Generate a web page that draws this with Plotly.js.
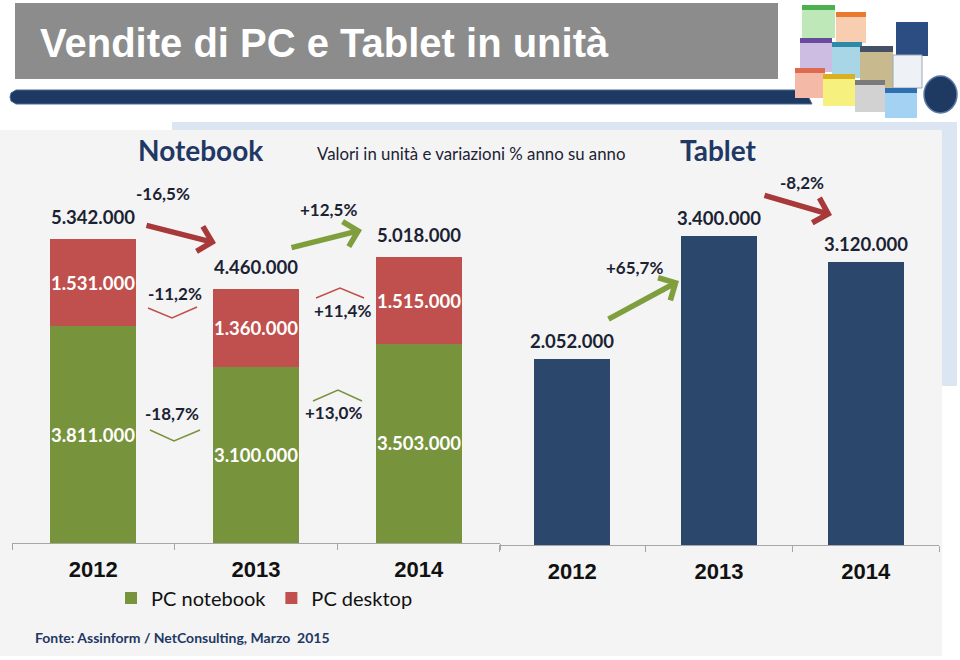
<!DOCTYPE html>
<html>
<head>
<meta charset="utf-8">
<script src="https://cdn.plot.ly/plotly-3.0.1.min.js"></script>
<style>
html,body{margin:0;padding:0;background:#ffffff;}
#chart{width:960px;height:660px;}
</style>
</head>
<body>
<div id="chart"></div>
<script>
// ---------------- DATA ----------------
const years = ['2012', '2013', '2014'];
const pcNotebook = [3811000, 3100000, 3503000];
const pcDesktop = [1531000, 1360000, 1515000];
const tablet = [2052000, 3400000, 3120000];
const pcTotalChange = ['-16,5%', '+12,5%'];
const desktopChange = ['-11,2%', '+11,4%'];
const notebookChange = ['-18,7%', '+13,0%'];
const tabletChange = ['+65,7%', '-8,2%'];
const seriesNames = ['PC notebook', 'PC desktop'];

// ---------------- STYLE ----------------
const GREEN = '#77933c', RED = '#c0504d', NAVY = '#2b476c';
const TXT = '#1b2233', TITLE = '#1f3864';
const LAB = 'Lato, "Open Sans", sans-serif';
const W = 960, H = 660;
const X = px => px / W;
const Y = py => 1 - py / H;
const fmt = n => String(n).replace(/\B(?=(\d{3})+(?!\d))/g, '.');
const pcTotal = pcNotebook.map((v, i) => v + pcDesktop[i]);

const traces = [
  {type: 'bar', x: years, y: pcNotebook, name: seriesNames[0], xaxis: 'x', yaxis: 'y',
   marker: {color: GREEN, line: {width: 0}}, width: 0.53, hoverinfo: 'skip'},
  {type: 'bar', x: years, y: pcDesktop, name: seriesNames[1], xaxis: 'x', yaxis: 'y',
   marker: {color: RED, line: {width: 0}}, width: 0.53, hoverinfo: 'skip'},
  {type: 'bar', x: years, y: tablet, name: 'Tablet', xaxis: 'x2', yaxis: 'y2', showlegend: false,
   marker: {color: NAVY, line: {width: 0}}, width: 0.52, hoverinfo: 'skip'}
];

// ---------------- SHAPES ----------------
function rect(x0, y0, x1, y1, fill, layer, line) {
  return {type: 'rect', xref: 'paper', yref: 'paper', x0: X(x0), x1: X(x1), y0: Y(y1), y1: Y(y0),
          fillcolor: fill, line: line || {width: 0}, layer: layer || 'below'};
}
function poly(pts, color, width, fill, layer) {
  const d = pts.map((p, i) => (i ? 'L' : 'M') + X(p[0]).toFixed(5) + ',' + Y(p[1]).toFixed(5)).join(' ') + (fill ? ' Z' : '');
  return {type: 'path', xref: 'paper', yref: 'paper', path: d,
          line: {color: color, width: width}, fillcolor: fill || 'rgba(0,0,0,0)', layer: layer || 'above'};
}
const shapes = [
  rect(172, 122, 957, 386, '#dce6f2'),
  rect(0, 130, 942, 656, '#f4f4f4'),
  rect(15, 3, 778, 79, '#8c8c8c'),
  // dark strip with rounded left end
  poly([[16, 90], [805, 90], [812, 104], [16, 104], [11, 101], [10, 97], [11, 93]], '#4a6a94', 1, '#1f3a62', 'below'),
  // chevrons
  poly([[148, 308], [172, 318], [197, 307]], RED, 1.5),
  poly([[316, 298], [340, 288], [364, 298]], RED, 1.5),
  poly([[150, 430], [174, 441], [200, 430]], GREEN, 1.5),
  poly([[313, 401], [338, 390], [362, 401]], GREEN, 1.5),
  // logo tiles
  rect(802, 5, 835, 38, '#bfe8b8', 'above'), rect(802, 5, 835, 10, '#4caf50', 'above'),
  rect(836, 12, 866, 43, '#f9cdb0', 'above'), rect(836, 12, 866, 17, '#e8792e', 'above'),
  rect(896, 22, 928, 56, '#2c4d82', 'above'),
  rect(800, 38, 832, 72, '#cdbde2', 'above'), rect(800, 38, 832, 43, '#6a4a9a', 'above'),
  rect(832, 42, 862, 78, '#a9d6e6', 'above'), rect(832, 42, 862, 47, '#2c8aa8', 'above'),
  rect(860, 46, 893, 96, '#c9b98e', 'above'), rect(860, 46, 893, 52, '#445066', 'above'),
  rect(893, 55, 922, 88, '#eef2f6', 'above', {color: '#9aa6b4', width: 1}),
  rect(795, 68, 825, 98, '#f5b9a8', 'above'), rect(795, 68, 825, 73, '#e06a50', 'above'),
  rect(823, 74, 855, 106, '#f6f07e', 'above'), rect(823, 74, 855, 79, '#d8b020', 'above'),
  rect(855, 80, 885, 112, '#d2d2d2', 'above'), rect(855, 80, 885, 85, '#7a7a7a', 'above'),
  rect(885, 88, 917, 118, '#a4d2f2', 'above'), rect(885, 88, 917, 93, '#2f6fb0', 'above'),
  {type: 'circle', xref: 'paper', yref: 'paper', x0: X(924), x1: X(957), y0: Y(113), y1: Y(76),
   fillcolor: '#1f3a62', line: {color: '#5a7aa4', width: 1.5}, layer: 'above'}
];

// ---------------- ANNOTATIONS ----------------
const ann = [];
function txt(x, y, text, size, color, extra) {
  ann.push(Object.assign({xref: 'paper', yref: 'paper', x: X(x), y: Y(y), text: text, showarrow: false,
    xanchor: 'center', yanchor: 'middle', font: {family: LAB, size: size, color: color}}, extra || {}));
}
function arrow(tx, ty, hx, hy, color) {
  ann.push({xref: 'paper', yref: 'paper', x: X(hx), y: Y(hy), ax: tx - hx, ay: ty - hy, axref: 'pixel', ayref: 'pixel',
    text: '', showarrow: true, arrowhead: 4, arrowsize: 0.9, arrowwidth: 5.5, arrowcolor: color, standoff: 0});
}
// slide title
txt(38, 43, '<b>Vendite di PC e Tablet in unità</b>', 40, '#ffffff',
    {xanchor: 'left', font: {family: '"Liberation Sans Narrow", "Arial Narrow", "Liberation Sans", sans-serif', size: 40, color: '#ffffff'}});
// chart headings
txt(200, 150, '<b>Notebook</b>', 28, TITLE);
txt(718, 150, '<b>Tablet</b>', 28, TITLE);
txt(471, 153, 'Valori in unità e variazioni % anno su anno', 16.8, TXT);
txt(33, 637, '<b>Fonte: Assinform / NetConsulting, Marzo  2015</b>', 14, TITLE, {xanchor: 'left'});

// value labels tied to data (category axes use the category index)
years.forEach((yr, i) => {
  ann.push({xref: 'x', yref: 'y', x: i, y: pcTotal[i], yshift: 22, text: '<b>' + fmt(pcTotal[i]) + '</b>',
    showarrow: false, yanchor: 'middle', font: {family: LAB, size: 18.5, color: TXT}});
  ann.push({xref: 'x', yref: 'y', x: i, y: pcNotebook[i] + pcDesktop[i] / 2, text: '<b>' + fmt(pcDesktop[i]) + '</b>',
    showarrow: false, yanchor: 'middle', font: {family: LAB, size: 18.5, color: '#ffffff'}});
  ann.push({xref: 'x', yref: 'y', x: i, y: pcNotebook[i] / 2, text: '<b>' + fmt(pcNotebook[i]) + '</b>',
    showarrow: false, yanchor: 'middle', font: {family: LAB, size: 18.5, color: '#ffffff'}});
  ann.push({xref: 'x2', yref: 'y2', x: i, y: tablet[i], yshift: 18, text: '<b>' + fmt(tablet[i]) + '</b>',
    showarrow: false, yanchor: 'middle', font: {family: LAB, size: 18.5, color: TXT}});
});

// percentage changes
txt(163, 193, '<b>' + pcTotalChange[0] + '</b>', 17, TXT);
txt(328, 210, '<b>' + pcTotalChange[1] + '</b>', 17, TXT);
txt(175, 293, '<b>' + desktopChange[0] + '</b>', 17, TXT);
txt(342, 310, '<b>' + desktopChange[1] + '</b>', 17, TXT);
txt(172, 413, '<b>' + notebookChange[0] + '</b>', 17, TXT);
txt(333, 412, '<b>' + notebookChange[1] + '</b>', 17, TXT);
txt(634, 268, '<b>' + tabletChange[0] + '</b>', 17, TXT);
txt(802, 182, '<b>' + tabletChange[1] + '</b>', 17, TXT);

// trend arrows
arrow(145, 225, 216, 243, '#a8393a');
arrow(290, 248, 362, 230, '#7f9f3e');
arrow(607, 320, 679, 281, '#7f9f3e');
arrow(763, 195, 832, 215, '#a8393a');

// ---------------- LAYOUT ----------------
const tickFont = {family: '"Liberation Sans", Arial, sans-serif', size: 22, color: '#111111', weight: 'bold'};
const xCommon = {type: 'category', range: [-0.5, 2.5], showline: true, linecolor: '#a6a6a6', linewidth: 1,
  ticks: 'outside', tickson: 'boundaries', ticklen: 6, tickcolor: '#a6a6a6', tickwidth: 1,
  tickfont: tickFont, ticklabelstandoff: 7, showgrid: false, zeroline: false, fixedrange: true};

const layout = {
  width: W, height: H,
  margin: {l: 0, r: 0, t: 0, b: 0, pad: 0},
  paper_bgcolor: '#ffffff', plot_bgcolor: 'rgba(0,0,0,0)',
  barmode: 'stack',
  showlegend: true,
  legend: {orientation: 'h', x: X(111), y: Y(598), xanchor: 'left', yanchor: 'middle', traceorder: 'normal',
    bgcolor: 'rgba(0,0,0,0)', font: {family: LAB, size: 20, color: '#111111'}, itemwidth: 30},
  xaxis: Object.assign({}, xCommon, {domain: [X(12), X(500)], anchor: 'y'}),
  yaxis: {domain: [Y(543), 1], range: [0, 543 / 56.9 * 1e6], visible: false, fixedrange: true},
  xaxis2: Object.assign({}, xCommon, {domain: [X(499), X(939)], anchor: 'y2'}),
  yaxis2: {domain: [Y(545), 1], range: [0, 545 / 90.8 * 1e6], visible: false, fixedrange: true},
  shapes: shapes,
  annotations: ann
};

Plotly.newPlot('chart', traces, layout, {displayModeBar: false, staticPlot: true});
</script>
</body>
</html>
